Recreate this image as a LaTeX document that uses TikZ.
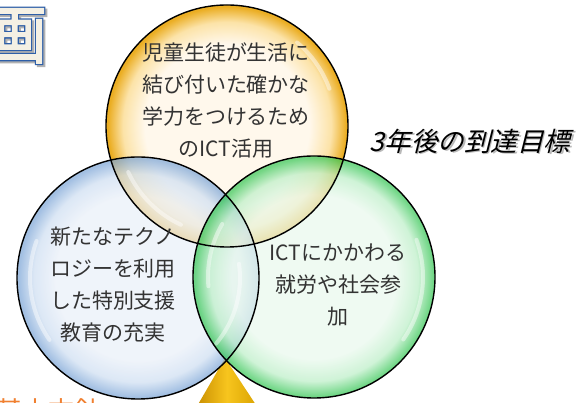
\documentclass[tikz,border=0pt]{standalone}
\usepackage{fontspec}
\setmainfont{Noto Sans CJK JP}
\newfontfamily\jp{Noto Sans CJK JP}
\newfontfamily\jpit[FakeSlant=0.25]{Noto Sans CJK JP}
\newfontfamily\jpout[FakeBold=6]{Noto Sans CJK JP}
\newfontfamily\jpin[FakeBold=2]{Noto Sans CJK JP}
\definecolor{yIn}{HTML}{FFF8EC}
\definecolor{yMid}{HTML}{FCE3A8}
\definecolor{yOut}{HTML}{EBAE24}
\definecolor{bIn}{HTML}{EAF0F9}
\definecolor{bMid}{HTML}{CFDFF2}
\definecolor{bOut}{HTML}{80A8D8}
\definecolor{gIn}{HTML}{E9F9ED}
\definecolor{gMid}{HTML}{BDEFC8}
\definecolor{gOut}{HTML}{3CC85A}
\definecolor{txt}{HTML}{333333}
\definecolor{ttlblue}{HTML}{2E5FA8}
\definecolor{ttlfill}{HTML}{F4F0E4}
\definecolor{orng}{HTML}{F08030}
\definecolor{goldL}{HTML}{C98E00}
\definecolor{goldM}{HTML}{F7C51E}
\definecolor{goldR}{HTML}{D9A200}
\pgfdeclareradialshading{yglass}{\pgfpoint{0bp}{0bp}}{color(0bp)=(yIn); color(17bp)=(yIn); color(21.5bp)=(yMid); color(24.6bp)=(yOut); color(50bp)=(yOut)}
\pgfdeclareradialshading{bglass}{\pgfpoint{0bp}{0bp}}{color(0bp)=(bIn); color(17bp)=(bIn); color(21.5bp)=(bMid); color(24.6bp)=(bOut); color(50bp)=(bOut)}
\pgfdeclareradialshading{gglass}{\pgfpoint{0bp}{0bp}}{color(0bp)=(gIn); color(17bp)=(gIn); color(21.5bp)=(gMid); color(24.6bp)=(gOut); color(50bp)=(gOut)}
\tikzset{
  glass/.style={circle, minimum size=242pt, inner sep=0pt, outer sep=0pt},
  rim/.style={draw=black, line width=1.4pt},
  gloss/.style={draw=white, line width=4pt, line cap=round, opacity=0.45},
  circtext/.style={align=center, text=txt, font=\jp\fontsize{21}{32}\selectfont, inner sep=0pt},
}
\begin{document}
\begin{tikzpicture}[x=1pt,y=1pt]
\useasboundingbox (0,0) rectangle (579,403);
\clip (0,0) rectangle (579,403);
\fill[white] (0,0) rectangle (579,403);
% title fragment
\node[text=gray!60, font=\jpout\fontsize{64}{64}\selectfont, inner sep=0pt] (ttlsh) at (17,365) {画};
\node[text=ttlblue, font=\jpout\fontsize{64}{64}\selectfont, inner sep=0pt] (ttl) at (15,367) {画};
\node[text=ttlfill, font=\jpin\fontsize{64}{64}\selectfont, inner sep=0pt] (ttlin) at (15,367) {画};
% orange cut-off text at bottom
\node[text=orng, font=\jp\fontsize{26}{26}\selectfont, inner sep=0pt, anchor=north west] (bottomtxt) at (-4,5) {基本方針};
% cone
\coordinate (apex) at (225,45);
\coordinate (baseL) at (196,-5);
\coordinate (baseR) at (258,-5);
\shade[left color=goldL, right color=goldR, middle color=goldM] (apex) -- (baseL) -- (baseR) -- cycle;
% circles
\node[glass, shading=yglass] (Y) at (227,277) {};
\node[glass, shading=bglass, fill opacity=0.72] (B) at (138,125) {};
\node[glass, shading=gglass, fill opacity=0.72] (G) at (314,126) {};
% highlights
\draw[gloss] ([shift={(160:108pt)}]B.center) arc[start angle=160, end angle=215, radius=108pt];
\draw[gloss] ([shift={(-40:102pt)}]B.center) arc[start angle=-40, end angle=8, radius=102pt];
\draw[gloss] ([shift={(-35:109pt)}]G.center) arc[start angle=-35, end angle=20, radius=109pt];
\draw[gloss] ([shift={(150:106pt)}]G.center) arc[start angle=150, end angle=185, radius=106pt];
\draw[gloss] ([shift={(205:109pt)}]Y.center) arc[start angle=205, end angle=245, radius=109pt];
\draw[gloss] ([shift={(20:109pt)}]Y.center) arc[start angle=20, end angle=50, radius=109pt];
% rims
\draw[rim] (Y.center) circle[radius=121pt];
\draw[rim] (B.center) circle[radius=121pt];
\draw[rim] (G.center) circle[radius=121pt];
% texts
\node[circtext] (ytxt) at (226,302) {児童生徒が生活に\\結び付いた確かな\\学力をつけるため\\のICT活用};
\node[circtext] (btxt) at (113,118) {新たなテクノ\\ロジーを利用\\した特別支援\\教育の充実};
\node[circtext] (gtxt) at (338,118) {ICTにかかわる\\就労や社会参\\加};
\node[text=gray!55, font=\jpit\fontsize{26.5}{27}\selectfont, inner sep=0pt] (goalsh) at (471.5,260.5) {3年後の到達目標};
\node[text=black, font=\jpit\fontsize{26.5}{27}\selectfont, inner sep=0pt] (goal) at (470,262) {3年後の到達目標};
\end{tikzpicture}
\end{document}
